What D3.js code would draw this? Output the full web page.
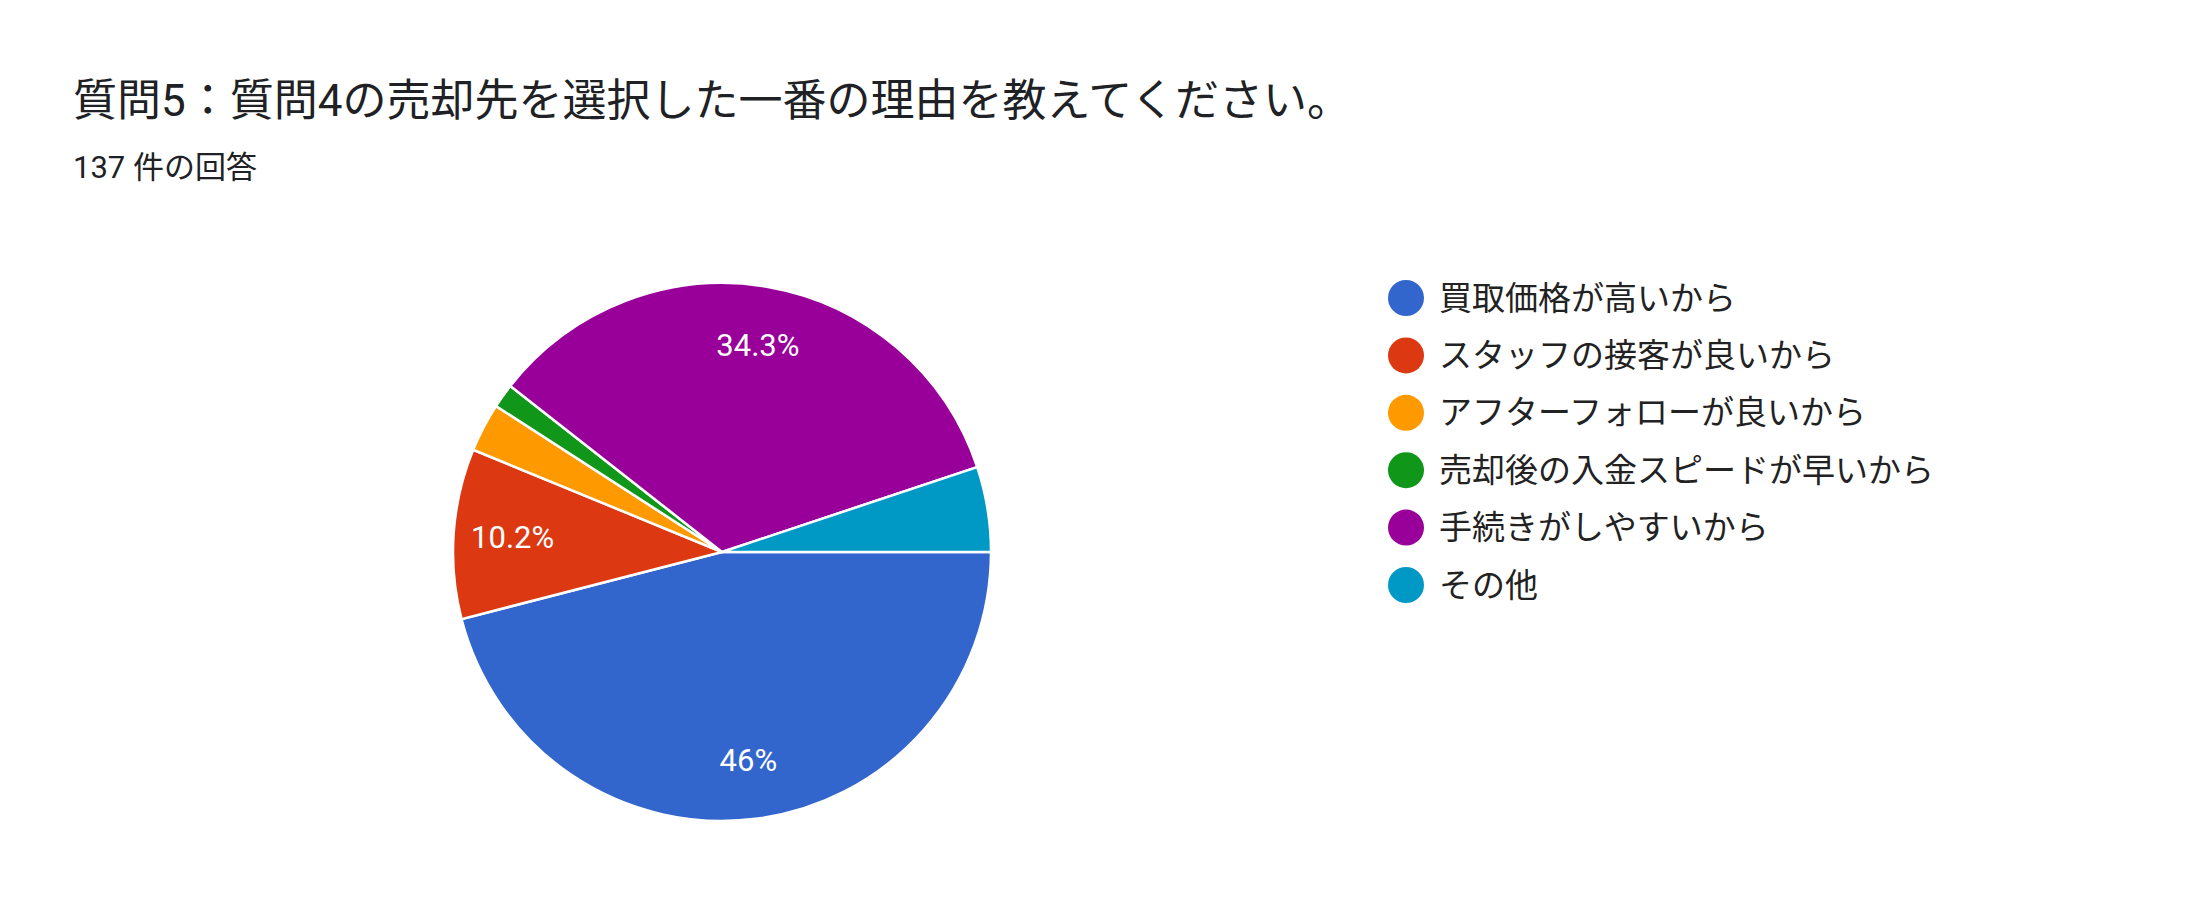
<!DOCTYPE html><html><head><meta charset="utf-8">
<script src="https://cdn.jsdelivr.net/npm/d3@7"></script>
<style>body{margin:0;background:#fff}</style></head><body><svg id="c" width="2196" height="924"></svg>
<script>
const categories=["買取価格が高いから","スタッフの接客が良いから","アフターフォローが良いから","売却後の入金スピードが早いから","手続きがしやすいから","その他"];
const counts=[63,14,4,2,47,7];
const colors=["#3366cc","#dc3912","#ff9900","#109618","#990099","#0099c6"];
const title="質問5：質問4の売却先を選択した一番の理由を教えてください。";
const subtitle="137 件の回答";
const svg=d3.select("#c");
const F="Roboto, 'Noto Sans CJK JP', sans-serif";
svg.append("text").attr("x",73).attr("y",116).attr("font-family",F).attr("font-size",44).attr("fill","#202124").text(title);
svg.append("text").attr("x",73).attr("y",178).attr("font-family",F).attr("font-size",31).attr("fill","#202124").text(subtitle);
const total=d3.sum(counts);
const cx=722,cy=552,r=269;
const pie=d3.pie().sort(null).startAngle(Math.PI/2).endAngle(Math.PI/2+2*Math.PI)(counts);
const arc=d3.arc().innerRadius(0).outerRadius(r);
const g=svg.append("g").attr("transform",`translate(${cx},${cy})`);
g.selectAll("path").data(pie).join("path").attr("d",arc).attr("fill",(d,i)=>colors[i]).attr("stroke","#fff").attr("stroke-width",2.5);
const la=d3.arc().innerRadius(r*0.78).outerRadius(r*0.78);
g.selectAll("text").data(pie.filter(d=>d.value/total>0.08)).join("text")
 .attr("transform",d=>`translate(${la.centroid(d)})`).attr("text-anchor","middle").attr("dy","0.35em")
 .attr("font-family",F).attr("font-size",31).attr("fill","#fff")
 .text(d=>{const p=d.value/total*100;return (Math.round(p*10)/10)+"%";});
const lg=svg.append("g");
categories.forEach((c,i)=>{
 const y=298+i*57.4;
 lg.append("circle").attr("cx",1406).attr("cy",y).attr("r",18).attr("fill",colors[i]);
 lg.append("text").attr("x",1439).attr("y",y).attr("dy","0.35em").attr("font-family",F).attr("font-size",33).attr("fill","#222").text(c);
});
</script></body></html>
